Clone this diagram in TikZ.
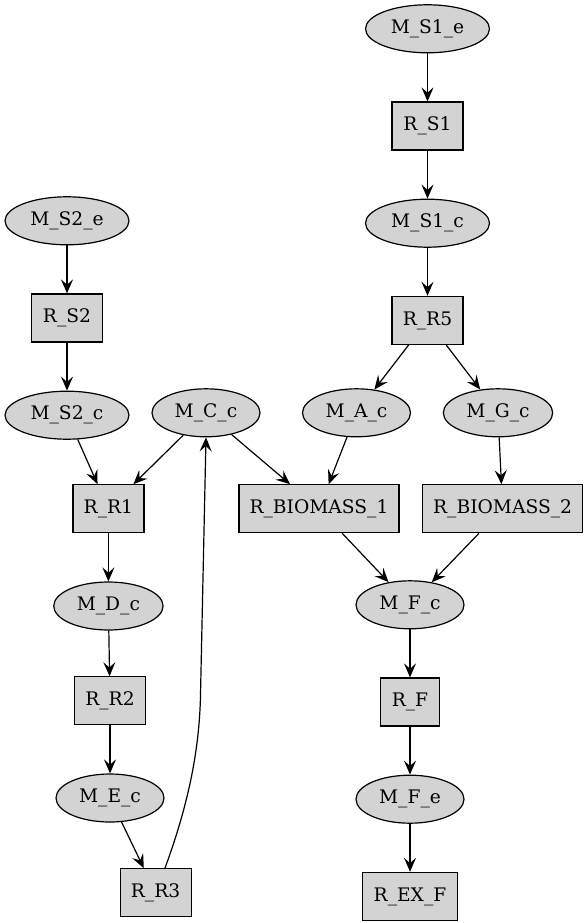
\documentclass[tikz,border=0pt]{standalone}
\usepackage{fontspec}
\setmainfont{DejaVu Serif}
\usepackage{tikz}
\usetikzlibrary{positioning}
\usetikzlibrary{arrows.meta,shapes.geometric}
\definecolor{nodegray}{HTML}{D3D3D3}

\tikzset{
  met/.style={ellipse, draw, fill=nodegray, inner sep=0pt, minimum height=36pt, minimum width=#1},
  met/.default=81pt,
  rxn/.style={rectangle, draw, fill=nodegray, inner sep=0pt, minimum height=36pt, minimum width=#1},
  rxn/.default=53.25pt,
  flux/.style={-{Stealth[length=10.5pt, width=9pt, inset=4pt]}}
}

\begin{document}
\begin{tikzpicture}[x=0.75pt, y=-0.75pt, node distance=36pt, line width=0.9pt, font=\fontsize{14pt}{16pt}\selectfont]
    \useasboundingbox (0,0) rectangle (585,923);

    \node(MS1e) [met=93pt] at (427.5,28.8) {M\_S1\_e};
    \node(RS1) [rxn, below=of MS1e] {R\_S1};
    \node(MS1c) [met=93pt, below=of RS1] {M\_S1\_c};
    \node(RR5) [rxn, below=of MS1c] {R\_R5};
    \node(MAc) [met] at (356.5,412.8) {M\_A\_c};
    \node(MGc) [met=82pt] at (498,412.8) {M\_G\_c};

    \node(MS2e) [met=93pt] at (67,220.8) {M\_S2\_e};
    \node(RS2) [rxn, below=of MS2e] {R\_S2};
    \node(MS2c) [met=93pt, below=of RS2] {M\_S2\_c};
    \node(MCc) [met] at (206,412.8) {M\_C\_c};

    \node(RR1) [rxn] at (108.4,508.8) {R\_R1};
    \node(RB1) [rxn=120pt] at (319,508.8) {R\_BIOMASS\_1};
    \node(RB2) [rxn=120pt] at (502.6,508.8) {R\_BIOMASS\_2};

    \node(MDc) [met=82pt, below=of RR1] {M\_D\_c};
    \node(RR2) [rxn] at (110,700.8) {R\_R2};
    \node(MEc) [met, below=of RR2] {M\_E\_c};
    \node(RR3) [rxn] at (155.6,892.8) {R\_R3};

    \node(MFc) [met] at (410,604.8) {M\_F\_c};
    \node(RF) [rxn=44.25pt, below=of MFc] {R\_F};
    \node(MFe) [met, below=of RF] {M\_F\_e};
    \node(REXF) [rxn=71.25pt, below=of MFe] {R\_EX\_F};

    \draw[flux](MS1e) -- (RS1);
    \draw[flux](RS1) -- (MS1c);
    \draw[flux](MS1c) -- (RR5);
    \draw[flux](RR5) -- (MAc);
    \draw[flux](RR5) -- (MGc);
    \draw[flux](MS2e) -- (RS2);
    \draw[flux](RS2) -- (MS2c);
    \draw[flux](MS2c) -- (RR1);
    \draw[flux](MCc) -- (RR1);
    \draw[flux](MCc) -- (RB1);
    \draw[flux](MAc) -- (RB1);
    \draw[flux](MGc) -- (RB2);
    \draw[flux](RB1) -- (MFc);
    \draw[flux](RB2) -- (MFc);
    \draw[flux](RR1) -- (MDc);
    \draw[flux](MDc) -- (RR2);
    \draw[flux](RR2) -- (MEc);
    \draw[flux](MEc) -- (RR3);
    \draw[flux]([xshift=7pt]RR3.north) .. controls (190,800) and (200,745) .. (200.6,690) -- (MCc.south);
    \draw[flux](MFc) -- (RF);
    \draw[flux](RF) -- (MFe);
    \draw[flux](MFe) -- (REXF);
\end{tikzpicture}
\end{document}
